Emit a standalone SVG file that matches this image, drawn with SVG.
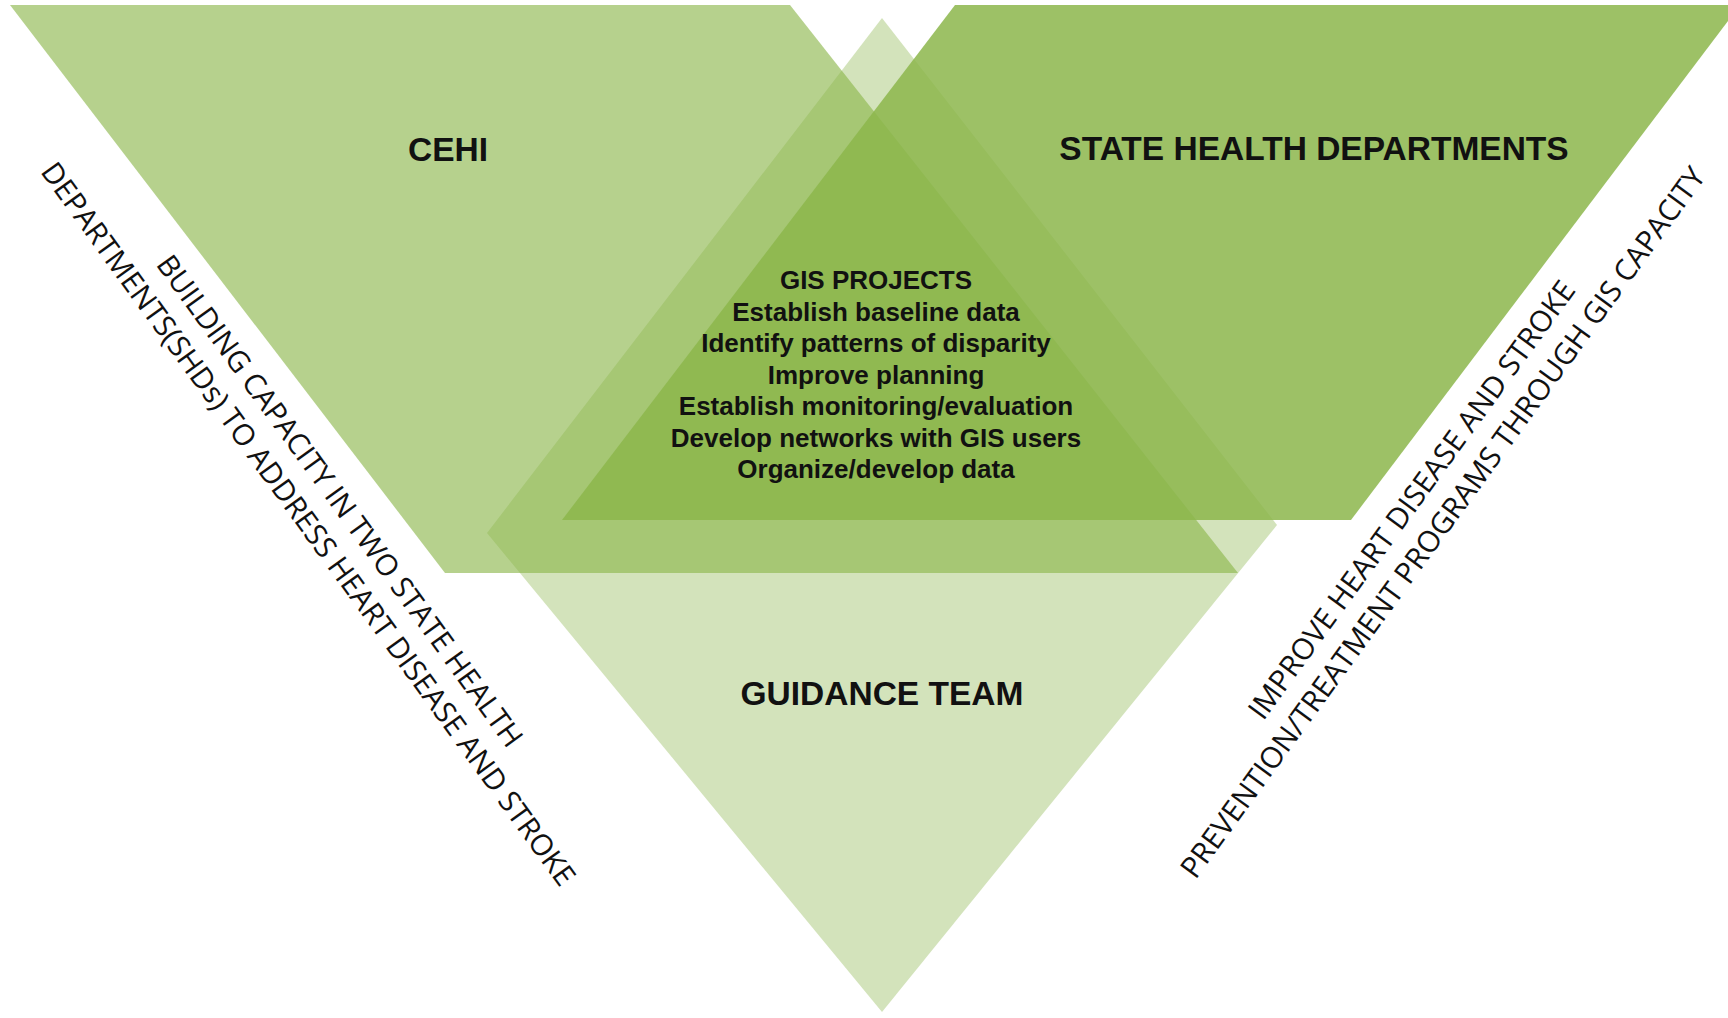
<svg xmlns="http://www.w3.org/2000/svg" width="1728" height="1018" viewBox="0 0 1728 1018">
  <style>
    .shape { fill: #8cb64b; }
    .title { font-family: "Liberation Sans", Arial, sans-serif; font-weight: bold; font-size: 33.5px; fill: #111; text-anchor: middle; }
    .item { font-family: "Liberation Sans", Arial, sans-serif; font-weight: bold; font-size: 26px; fill: #111; text-anchor: middle; }
    .side { font-family: "Open Sans", "DejaVu Sans", sans-serif; font-size: 29.5px; fill: #111; text-anchor: middle; }
  </style>
  <rect width="1728" height="1018" fill="#ffffff"/>
  <g id="guidance-team">
    <polygon class="shape" fill-opacity="0.38" points="882,18 1277,525 882,1012 487,533"/>
    <text class="title" x="882" y="705">GUIDANCE TEAM</text>
  </g>
  <g id="cehi">
    <polygon class="shape" fill-opacity="0.63" points="10,5 790,5 1238,573 445,573"/>
    <text class="title" x="448" y="161">CEHI</text>
  </g>
  <g id="state-health-departments">
    <polygon class="shape" fill-opacity="0.85" points="955,5 1740,5 1351,520 562,520"/>
    <text class="title" x="1314" y="160">STATE HEALTH DEPARTMENTS</text>
  </g>
  <g id="gis-projects">
    <text class="item" x="876" y="289">GIS PROJECTS</text>
    <text class="item" x="876" y="320.5">Establish baseline data</text>
    <text class="item" x="876" y="352">Identify patterns of disparity</text>
    <text class="item" x="876" y="383.5">Improve planning</text>
    <text class="item" x="876" y="415">Establish monitoring/evaluation</text>
    <text class="item" x="876" y="446.5">Develop networks with GIS users</text>
    <text class="item" x="876" y="478">Organize/develop data</text>
  </g>
  <g id="left-caption" transform="translate(300,530) rotate(54)">
    <text class="side" x="0" y="-39">BUILDING CAPACITY IN TWO STATE HEALTH</text>
    <text class="side" x="0" y="0">DEPARTMENTS(SHDs) TO ADDRESS HEART DISEASE AND STROKE</text>
  </g>
  <g id="right-caption" transform="translate(1451,528.5) rotate(-54)">
    <text class="side" x="0" y="-38.5">IMPROVE HEART DISEASE AND STROKE</text>
    <text class="side" x="0" y="0">PREVENTION/TREATMENT PROGRAMS THROUGH GIS CAPACITY</text>
  </g>
  <g id="connectors"></g>
</svg>
